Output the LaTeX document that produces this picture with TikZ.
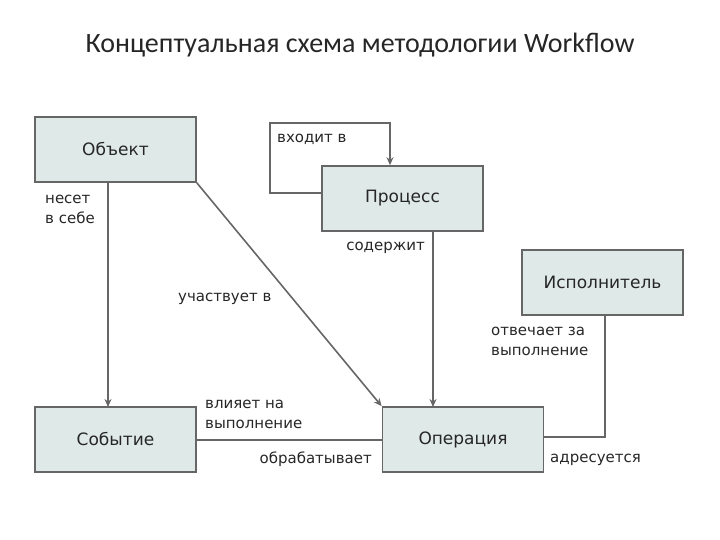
\documentclass[tikz,border=0pt]{standalone}
\usepackage{fontspec}
\setmainfont{DejaVu Sans}
\newfontfamily\titlefont{Carlito}
\usetikzlibrary{arrows.meta}
\definecolor{boxfill}{HTML}{DFE9E8}
\definecolor{boxline}{HTML}{666666}
\definecolor{txt}{HTML}{262626}
\tikzset{
  box/.style={draw=boxline, line width=1.6pt, fill=boxfill, minimum width=161pt, minimum height=65pt, inner sep=0pt, text=txt, font=\fontsize{17}{20}\selectfont},
  conn/.style={draw=boxline, line width=1.6pt},
  arr/.style={conn, -{Stealth[length=8pt,width=7pt]}},
  lbl/.style={text=txt, font=\fontsize{15}{20}\selectfont, inner sep=0pt, align=left}
}
\begin{document}
\begin{tikzpicture}[x=1pt,y=-1pt]
\useasboundingbox (0,0) rectangle (720,540);
\node[font=\titlefont\fontsize{28}{30}\selectfont, text=black!85] (title) at (360,45) {Концептуальная схема методологии Workflow};
\node[box] (obj) at (115.5,149.5) {Объект};
\node[box] (proc) at (402.5,198.5) {Процесс};
\node[box] (exec) at (602.5,282.5) {Исполнитель};
\node[box] (ev) at (115.5,439.5) {Событие};
\node[box] (op) at (463,439.5) {Операция};
% loop
\coordinate (l1) at (270,193);
\coordinate (l2) at (270,123);
\coordinate (l3) at (390,123);
\draw[arr] (proc.west |- l1) -- (l1) -- (l2) -- (l3) -- (l3 |- proc.north);
\node[lbl, anchor=base west] (lin) at (277,143) {входит в};
% object -> event
\draw[arr] (108,182) -- (108,407);
\node[lbl, anchor=north west] (lnes) at (45,195) {несет\\в себе};
% object -> operation
\draw[arr] (obj.south east) -- (op.north west);
\node[lbl, anchor=base west] (luch) at (178,301) {участвует в};
% process -> operation
\draw[arr] (433,231) -- (433,407);
\node[lbl, anchor=base east] (lsod) at (425,250) {содержит};
% executor -> operation
\coordinate (e1) at (605,437);
\draw[conn] (605,315) -- (e1) -- (op.east |- e1);
\node[lbl, anchor=north west] (lotv) at (491,327) {отвечает за\\выполнение};
\node[lbl, anchor=base west] (ladr) at (550,462) {адресуется};
% event -> operation
\draw[conn] (ev.east |- 0,440) -- (op.west |- 0,440);
\node[lbl, anchor=north west] (lvl) at (205,400) {влияет на\\выполнение};
\node[lbl, anchor=base east] (lobr) at (372,463) {обрабатывает};
\end{tikzpicture}
\end{document}
